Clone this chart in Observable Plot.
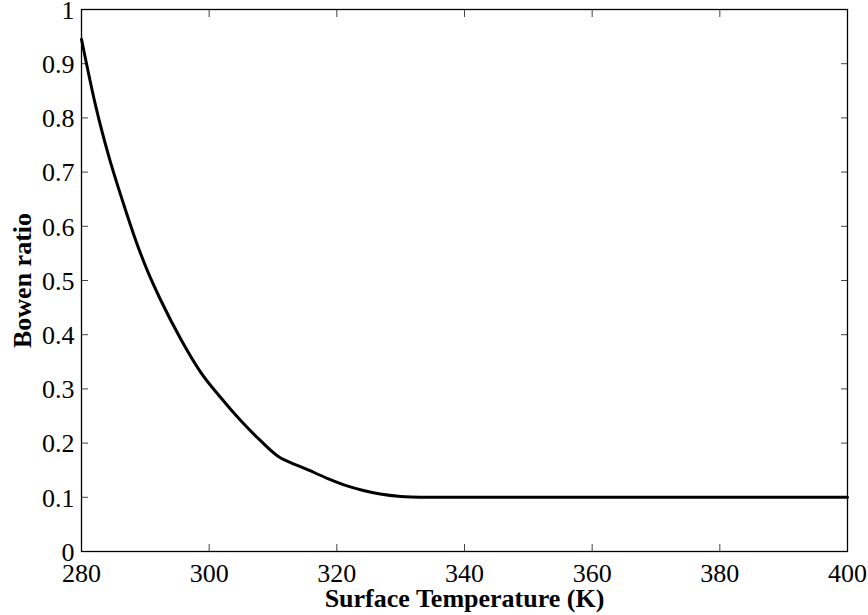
<!DOCTYPE html>
<html>
<head>
<meta charset="utf-8">
<script src="https://cdn.jsdelivr.net/npm/d3@7"></script>
<script src="https://cdn.jsdelivr.net/npm/@observablehq/plot@0.6"></script>
<style>
  html, body { margin: 0; padding: 0; background: #fff; }
  #chart svg { display: block; }
  #chart svg text { font-family: "Liberation Serif", "Times New Roman", serif; fill: #000; }
</style>
</head>
<body>
<div id="chart"></div>
<script>
const temperature = [280, 282.2, 284.3, 286.4, 288.5, 290.5, 292.4, 295.5, 298.6, 301.8, 304.9, 308.0, 311.2, 312.4, 315.6, 318.5, 321.6, 324.0, 326.8, 330.0, 333.0, 340, 360, 380, 400];
const bowen =       [0.945, 0.823, 0.728, 0.648, 0.574, 0.513, 0.464, 0.393, 0.332, 0.284, 0.242, 0.205, 0.1725, 0.166, 0.15, 0.135, 0.121, 0.113, 0.106, 0.1015, 0.1, 0.1, 0.1, 0.1, 0.1];
const xTicks = [280, 300, 320, 340, 360, 380, 400];
const yTicks = [0, 0.1, 0.2, 0.3, 0.4, 0.5, 0.6, 0.7, 0.8, 0.9, 1];
const xLabel = "Surface Temperature (K)";
const yLabel = "Bowen ratio";

const data = temperature.map((t, i) => ({t, b: bowen[i]}));
const serif = "'Liberation Serif', 'Times New Roman', serif";

const chart = Plot.plot({
  width: 868,
  height: 615,
  marginLeft: 81,
  marginRight: 21,
  marginTop: 9,
  marginBottom: 64,
  style: {fontFamily: serif, fontSize: "26px", color: "#000", background: "#fff"},
  x: {domain: [280, 400]},
  y: {domain: [0, 1]},
  marks: [
    Plot.axisX({anchor: "bottom", ticks: xTicks, tickSize: -7, tickFormat: () => "", label: null, stroke: "#444"}),
    Plot.axisX({anchor: "top", ticks: xTicks, tickSize: -7, tickFormat: () => "", label: null, stroke: "#444"}),
    Plot.axisY({anchor: "left", ticks: yTicks, tickSize: -7, tickFormat: () => "", label: null, stroke: "#444"}),
    Plot.axisY({anchor: "right", ticks: yTicks, tickSize: -7, tickFormat: () => "", label: null, stroke: "#444"}),
    Plot.text(xTicks, {x: d => d, text: d => `${d}`, frameAnchor: "bottom", dy: 12, lineAnchor: "top", textAnchor: "middle", fontSize: 26, fontFamily: serif, fill: "#000"}),
    Plot.text(yTicks, {y: d => d, text: d => `${d}`, frameAnchor: "left", dx: -7, dy: 1, lineAnchor: "middle", textAnchor: "end", fontSize: 26, fontFamily: serif, fill: "#000"}),
    Plot.frame({stroke: "#000", strokeWidth: 1.3}),
    Plot.line(data, {x: "t", y: "b", stroke: "#000", strokeWidth: 3, curve: "monotone-x"}),
    Plot.text([xLabel], {frameAnchor: "bottom", dy: 47, lineAnchor: "middle", fontWeight: "bold", fontSize: 26, fontFamily: serif, fill: "#000"}),
    Plot.text([yLabel], {frameAnchor: "left", dx: -59, rotate: -90, lineAnchor: "middle", textAnchor: "middle", fontWeight: "bold", fontSize: 26, fontFamily: serif, fill: "#000"})
  ]
});
document.getElementById("chart").appendChild(chart);
</script>
</body>
</html>
